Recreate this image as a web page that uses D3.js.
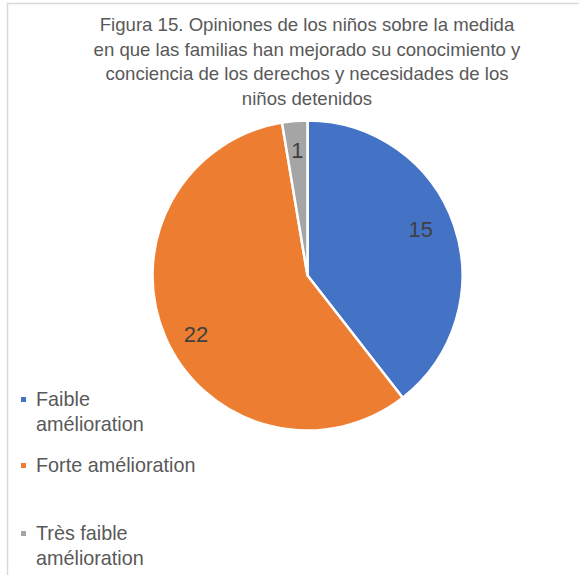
<!DOCTYPE html>
<html>
<head>
<meta charset="utf-8">
<script src="https://cdn.jsdelivr.net/npm/d3@7"></script>
<style>
  body { margin: 0; background: #fff; }
  svg { display: block; font-family: "Liberation Sans", Arial, sans-serif; }
</style>
</head>
<body>
<svg id="pie-svg" width="579" height="575"></svg>
<script>
// chart data
const categories = ["Faible amélioration", "Forte amélioration", "Très faible amélioration"];
const counts = [15, 22, 1];
const colors = ["#4472C4", "#ED7D31", "#A5A5A5"];
const titleLines = [
    "Figura 15. Opiniones de los niños sobre la medida",
    "en que las familias han mejorado su conocimiento y",
    "conciencia de los derechos y necesidades de los",
    "niños detenidos"
];
// legend labels wrapped like the original
const legendLines = [["Faible", "amélioration"], ["Forte amélioration"], ["Très faible", "amélioration"]];

const data = categories.map((c, i) => ({ name: c, value: counts[i] }));

var svg = d3.select("#pie-svg"),
    radius = 155,
    cx = 307.5,
    cy = 275.5;

// outer chart border (cut off on right and bottom)
svg.append("rect")
    .attr("x", 7.5).attr("y", 3.5)
    .attr("width", 600).attr("height", 600)
    .attr("fill", "none")
    .attr("stroke", "#d9d9d9")
    .attr("stroke-width", 1.5);

// title
svg.append("g").selectAll("text")
    .data(titleLines)
    .enter()
    .append("text")
    .attr("x", 307)
    .attr("y", (d, i) => 31 + i * 24.5)
    .attr("text-anchor", "middle")
    .attr("fill", "#595959")
    .style("font-size", "18.6px")
    .text(d => d);

var g = svg.append("g")
    .attr("transform", "translate(" + cx + "," + cy + ")");

var ordScale = d3.scaleOrdinal()
    .domain(categories)
    .range(colors);

var pie = d3.pie().sort(null).value(d => d.value);

var path = d3.arc()
    .outerRadius(radius)
    .innerRadius(0);

var label = d3.arc()
    .outerRadius(radius * 0.8)
    .innerRadius(radius * 0.8);

var arc = g.selectAll(".arc")
    .data(pie(data))
    .enter();

arc.append("path")
    .attr("d", path)
    .attr("fill", d => ordScale(d.data.name))
    .attr("stroke", "#fff")
    .attr("stroke-width", 2.5);

// nudge labels a bit like Excel's best-fit placement
var nudge = [[-4, -6], [2, 9], [0, -2]];
arc.append("text")
    .attr("transform", (d, i) => {
        var c = label.centroid(d);
        return "translate(" + (c[0] + nudge[i][0]) + "," + (c[1] + nudge[i][1]) + ")";
    })
    .attr("dy", "0.35em")
    .attr("text-anchor", "middle")
    .attr("fill", "#404040")
    .style("font-size", "22px")
    .text(d => d.data.value);

// legend
var legendY = [406, 472, 540];
var legend = svg.append("g").selectAll("g")
    .data(categories)
    .enter()
    .append("g")
    .attr("transform", (d, i) => "translate(0," + legendY[i] + ")");

legend.append("rect")
    .attr("x", 21)
    .attr("y", -9)
    .attr("width", 5)
    .attr("height", 5)
    .attr("fill", d => ordScale(d));

legend.append("text")
    .attr("fill", "#595959")
    .style("font-size", "19.8px")
    .selectAll("tspan")
    .data((d, i) => legendLines[i])
    .enter()
    .append("tspan")
    .attr("x", 36)
    .attr("dy", (d, j) => j === 0 ? 0 : 25)
    .text(d => d);
</script>
</body>
</html>
